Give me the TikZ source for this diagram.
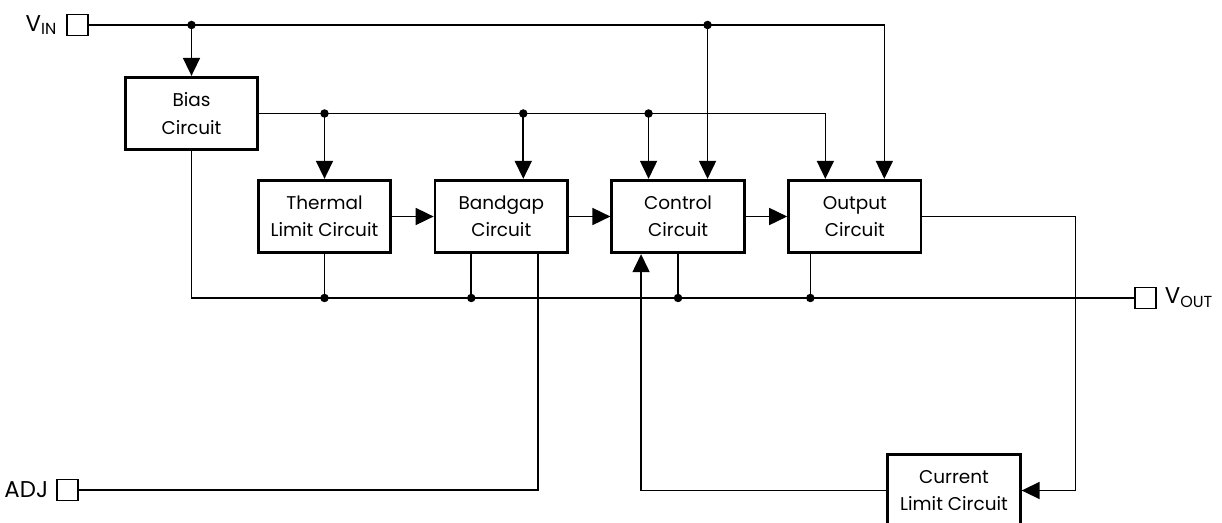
\documentclass[tikz,border=0pt]{standalone}
\usepackage{fontspec}
\setmainfont{Poppins}
\usetikzlibrary{positioning,calc,arrows.meta}

\begin{document}
\begin{tikzpicture}[x=0.02cm, y=-0.02cm, node distance=0.83cm,
        block/.style={draw, rectangle, line width=1.6pt, minimum width=2.65cm, minimum height=1.45cm, align=center, font=\fontsize{10.5}{15.5}\selectfont},
        pin/.style={draw, rectangle, line width=0.6pt, minimum size=0.42cm, inner sep=0pt},
        lbl/.style={inner sep=0pt, font=\fontsize{13}{16}\selectfont},
        wire/.style={line width=0.95pt},
        dot/.style={circle, fill, inner sep=0pt, minimum size=0.17cm},
        >={Triangle[length=0.36cm, width=0.34cm]}
    ]
        \useasboundingbox (0,0) rectangle (1222,523);
        \clip (0,0) rectangle (1222,523);

        \node [block] (bias) at (191.5,113.5) {Bias\\Circuit};
        \node [block] (thermal) at (324.5,216.5) {Thermal\\Limit Circuit};
        \node [block, right=of thermal] (bandgap) {Bandgap\\Circuit};
        \node [block, right=of bandgap] (control) {Control\\Circuit};
        \node [block, right=of control] (output) {Output\\Circuit};
        \node [block] (climit) at (954,490.5) {Current\\Limit Circuit};

        \node [pin] (vin) at (77.5,25) {};
        \node [lbl, left=0.18cm of vin] (vinlbl) {V\textsubscript{IN}};
        \node [pin] (adj) at (67.5,490) {};
        \node [lbl, left=0.16cm of adj] (adjlbl) {ADJ};
        \node [pin] (vout) at (1145.5,298) {};
        \node [lbl, right=0.16cm of vout] (voutlbl) {V\textsubscript{OUT}};

        \coordinate (bgin) at ([xshift=0.44cm]bandgap.north);
        \coordinate (cin1) at ([xshift=-0.59cm]control.north);
        \coordinate (cin2) at ([xshift=0.59cm]control.north);
        \coordinate (oin1) at ([xshift=-0.59cm]output.north);
        \coordinate (oin2) at ([xshift=0.59cm]output.north);
        \coordinate (bgout) at ([xshift=-0.6cm]bandgap.south);
        \coordinate (bgadj) at ([xshift=0.74cm]bandgap.south);
        \coordinate (cfb) at ([xshift=-0.74cm]control.south);
        \coordinate (oout) at ([xshift=-0.89cm]output.south);

        % input rail
        \draw [wire,->] (vin.east) -| (oin2);
        \draw [wire,->] (bias.north |- vin) node[dot]{} -- (bias.north);
        \draw [wire,->] (cin2 |- vin) node[dot]{} -- (cin2);

        % bias rail
        \draw [wire,->] (bias.east) -| (oin1);
        \draw [wire,->] (thermal.north |- bias.east) node[dot]{} -- (thermal.north);
        \draw [wire,->] (bgin |- bias.east) node[dot]{} -- (bgin);
        \draw [wire,->] (cin1 |- bias.east) node[dot]{} -- (cin1);

        \draw [wire,->] (thermal) -- (bandgap);
        \draw [wire,->] (bandgap) -- (control);
        \draw [wire,->] (control) -- (output);

        % output rail
        \draw [wire] (bias.south) |- (vout.west);
        \draw [wire] (thermal.south) -- (thermal.south |- vout) node[dot]{};
        \draw [wire] (bgout) -- (bgout |- vout) node[dot]{};
        \draw [wire] (control.south) -- (control.south |- vout) node[dot]{};
        \draw [wire] (oout) -- (oout |- vout) node[dot]{};

        \draw [wire] (bgadj) |- (adj.east);

        % current limit loop
        \draw [wire,->] (output.east) -- ++(3.06cm,0) |- (climit.east);
        \draw [wire,->] (climit.west) -| (cfb);
    \end{tikzpicture}
\end{document}
